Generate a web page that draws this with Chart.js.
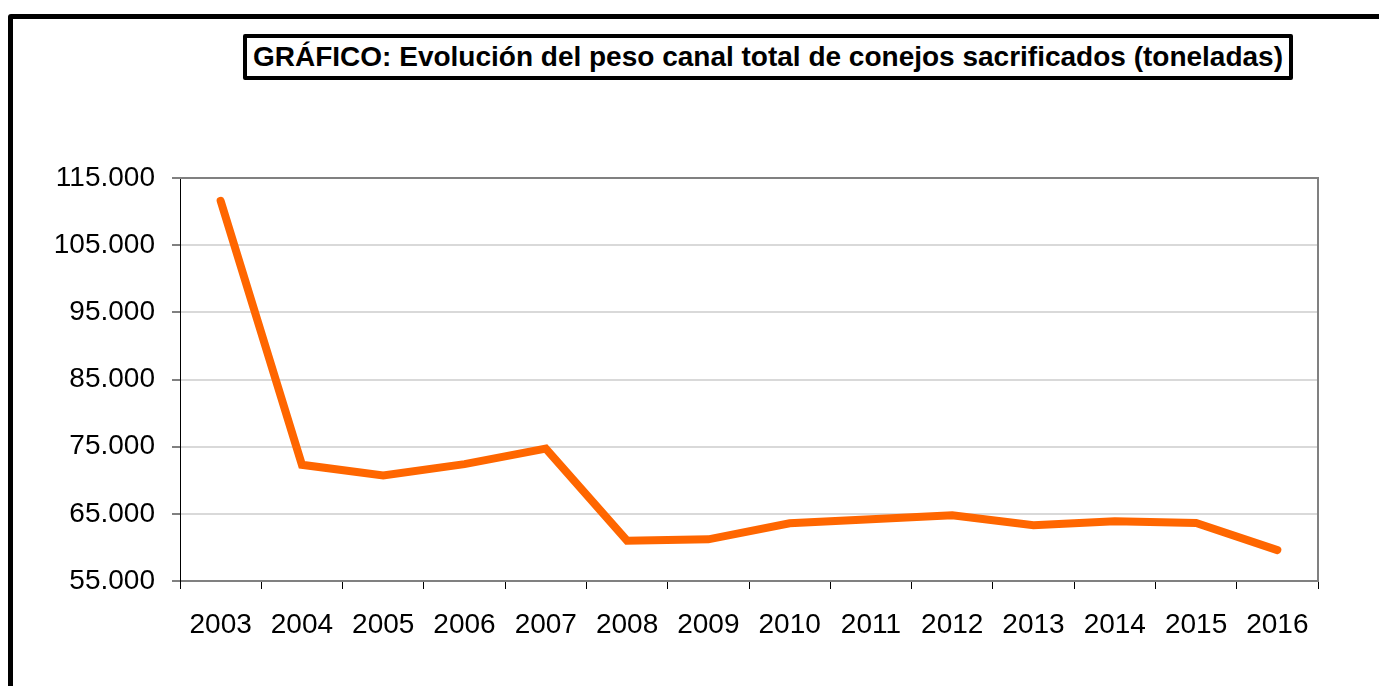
<!DOCTYPE html>
<html>
<head>
<meta charset="utf-8">
<script src="https://cdn.jsdelivr.net/npm/chart.js@4"></script>
<style>
    html, body { margin: 0; padding: 0; background: #fff; overflow: hidden; }
    #wrap { position: relative; width: 1379px; height: 686px; }
    #frame {
        position: absolute; left: 8px; top: 14px;
        width: 1400px; height: 700px;
        border: 5px solid #000; border-radius: 3px;
    }
    #title {
        position: absolute; left: 243px; top: 34px;
        width: 1042px; height: 38px;
        border: 4px solid #000; border-radius: 2px;
        font-family: 'Liberation Sans', Arial, sans-serif;
        font-weight: bold; font-size: 28px; line-height: 38px;
        text-align: center; color: #000; white-space: nowrap;
    }
    canvas { position: absolute; left: 0; top: 0; }
</style>
</head>
<body>
<div id="wrap">
    <div id="frame"></div>
    <div id="title">GRÁFICO: Evolución del peso canal total de conejos sacrificados (toneladas)</div>
    <canvas id="chart" width="1379" height="686"></canvas>
</div>
<script>
// --- Datos ---
const years = ['2003', '2004', '2005', '2006', '2007', '2008', '2009', '2010', '2011', '2012', '2013', '2014', '2015', '2016'];
const tonnes = [111600, 72300, 70700, 72400, 74700, 61000, 61200, 63600, 64200, 64800, 63300, 63900, 63650, 59600];
const yTicks = [55000, 65000, 75000, 85000, 95000, 105000, 115000];

const FONT = "'Liberation Sans', Arial, sans-serif";

// miles con punto: 115000 -> 115.000
function fmt(v) {
    return String(v).replace(/\B(?=(\d{3})+(?!\d))/g, '.');
}

// marco gris arriba y a la derecha del área de trazado
const plotBorder = {
    id: 'plotBorder',
    beforeDatasetsDraw(chart) {
        const { ctx, chartArea: a } = chart;
        ctx.save();
        ctx.strokeStyle = '#808080';
        ctx.lineWidth = 2;
        ctx.beginPath();
        ctx.moveTo(a.left, a.top);
        ctx.lineTo(a.right, a.top);
        ctx.lineTo(a.right, a.bottom);
        ctx.stroke();
        ctx.restore();
    }
};

new Chart(document.getElementById('chart'), {
    type: 'line',
    data: {
        labels: years,
        datasets: [{
            data: tonnes,
            borderColor: '#ff6600',
            borderWidth: 8,
            borderCapStyle: 'round',
            borderJoinStyle: 'miter',
            pointRadius: 0,
            tension: 0,
            fill: false
        }]
    },
    options: {
        responsive: false,
        animation: false,
        layout: { padding: { top: 178, right: 61, bottom: 0, left: 0 } },
        plugins: {
            legend: { display: false },
            tooltip: { enabled: false }
        },
        scales: {
            x: {
                offset: true,
                afterFit(scale) { scale.height = 105; },
                grid: {
                    offset: true,
                    drawOnChartArea: false,
                    drawTicks: true,
                    tickLength: 8,
                    tickColor: '#000'
                },
                border: { display: true, color: '#808080', width: 2 },
                ticks: {
                    padding: 19,
                    maxRotation: 0,
                    autoSkip: false,
                    color: '#000',
                    font: { family: FONT, size: 28 }
                }
            },
            y: {
                min: 55000,
                max: 115000,
                afterFit(scale) { scale.width = 180; },
                afterBuildTicks(scale) {
                    scale.ticks = yTicks.map(v => ({ value: v }));
                },
                grid: {
                    color: '#d9d9d9',
                    lineWidth: 2,
                    tickLength: 8,
                    tickColor: '#808080'
                },
                border: { display: true, color: '#000', width: 1 },
                ticks: {
                    padding: 17,
                    color: '#000',
                    font: { family: FONT, size: 28 },
                    callback: v => fmt(v)
                }
            }
        }
    },
    plugins: [plotBorder]
});
</script>
</body>
</html>
